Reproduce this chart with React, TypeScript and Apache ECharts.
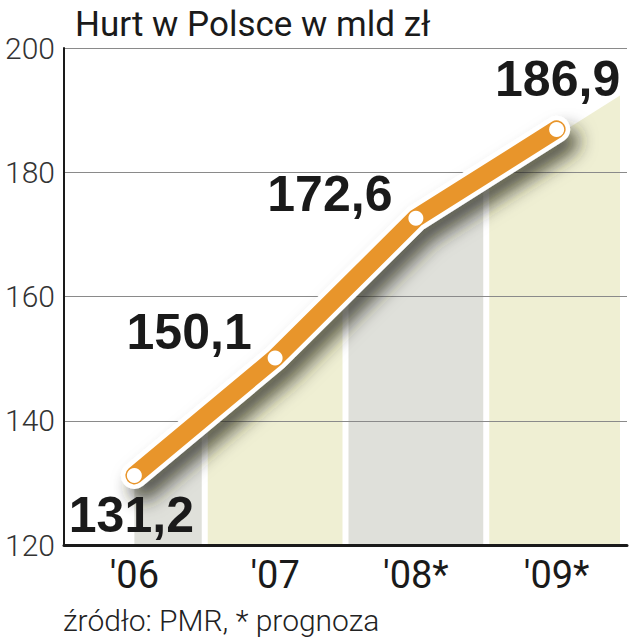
import React, { useEffect, useRef } from "react";
import * as echarts from "echarts";

// Wholesale trade in Poland, bn PLN (2008 and 2009 are forecasts)
const CATEGORIES = ["'06", "'07", "'08*", "'09*"];
const VALUES = [131.2, 150.1, 172.6, 186.9];
const Y_MIN = 120;
const Y_MAX = 200;
const Y_STEP = 20;

const TITLE = "Hurt w Polsce w mld zł";
const SOURCE = "źródło: PMR, * prognoza";

const BAND_COLORS = ["#dfe0da", "#efefd3"];
const LINE_COLOR = "#e8952b";
const INK = "#1a1a1a";
// where each value label sits relative to its point
const LABEL_OFFSETS: [number, number][] = [
  [-3, 40],
  [-86, -26],
  [-86, -24],
  [1, -50],
];

const formatValue = (v: number) => v.toFixed(1).replace(".", ",");

export default function App() {
  const ref = useRef<HTMLDivElement>(null);

  useEffect(() => {
    if (!ref.current) return;
    const chart = echarts.init(ref.current, null, { renderer: "svg" });

    const bandRenderer = (params: any, api: any) => {
      const i = api.value(0);
      const cs = params.coordSys;
      const pts = VALUES.map((v, j) => api.coord([j, v]));
      const w = api.size([1, 0])[0];
      const gap = 3;
      const xc = pts[i][0];
      const left = i === 0 ? xc : xc - w / 2 + gap;
      const right = i === VALUES.length - 1 ? cs.x + cs.width - 7 : xc + w / 2 - gap;
      const yAt = (x: number) => {
        let k = 0;
        while (k < pts.length - 2 && x > pts[k + 1][0]) k++;
        const [x0, y0] = pts[k];
        const [x1, y1] = pts[k + 1];
        return y0 + ((y1 - y0) * (x - x0)) / (x1 - x0);
      };
      const bottom = api.coord([i, Y_MIN])[1] - 1;
      const poly: number[][] = [[left, yAt(left) + 6]];
      if (xc > left && xc < right) poly.push([xc, pts[i][1] + 6]);
      poly.push([right, yAt(right) + 6], [right, bottom], [left, bottom]);
      return {
        type: "polygon",
        shape: { points: poly },
        style: { fill: BAND_COLORS[i % 2] },
      };
    };

    chart.setOption({
      animation: false,
      backgroundColor: "#ffffff",
      title: {
        text: TITLE,
        left: 70,
        top: 2,
        textStyle: {
          fontFamily: "Roboto",
          fontSize: 35,
          fontWeight: 400,
          color: INK,
        },
      },
      grid: { left: 64, right: 2, top: 48, bottom: 95, containLabel: false },
      xAxis: {
        type: "category",
        data: CATEGORIES,
        z: 3,
        axisTick: { show: false },
        axisLine: { lineStyle: { color: INK, width: 3 } },
        axisLabel: {
          fontFamily: "Roboto",
          fontSize: 38,
          color: INK,
          margin: 11,
        },
      },
      yAxis: {
        type: "value",
        min: Y_MIN,
        max: Y_MAX,
        interval: Y_STEP,
        z: 3,
        axisLine: { show: true, lineStyle: { color: INK, width: 2 } },
        axisTick: { show: false },
        splitLine: { lineStyle: { color: "#8a8a8a", width: 1.2 } },
        axisLabel: {
          fontFamily: "Roboto",
          fontWeight: 300,
          fontSize: 30,
          color: "#333333",
          margin: 9,
          verticalAlign: "middle",
          padding: [18, 0, 0, 0],
        },
      },
      series: [
        {
          type: "custom",
          z: 2,
          silent: true,
          renderItem: bandRenderer,
          encode: { x: 0, y: 1 },
          data: VALUES.map((v, i) => [i, v]),
        },
        {
          type: "line",
          z: 4,
          silent: true,
          symbol: "none",
          data: VALUES,
          lineStyle: {
            color: "#ffffff",
            width: 27,
            cap: "round",
            join: "round",
            shadowColor: "rgba(40,40,30,0.75)",
            shadowBlur: 18,
            shadowOffsetX: 9,
            shadowOffsetY: 12,
          },
        },
        {
          type: "line",
          z: 5,
          silent: true,
          symbol: "circle",
          symbolSize: 15,
          itemStyle: { color: "#ffffff", borderWidth: 0 },
          lineStyle: { color: LINE_COLOR, width: 18, cap: "round", join: "round" },
          data: VALUES.map((v, i) => ({
            value: v,
            label: { offset: LABEL_OFFSETS[i] },
          })),
          label: {
            show: true,
            position: "inside",
            formatter: (p: any) => formatValue(p.value),
            fontFamily: "Liberation Sans",
            fontWeight: "bold",
            fontSize: 50,
            color: INK,
            align: "center",
            verticalAlign: "middle",
          },
        },
      ],
      graphic: [
        {
          type: "text",
          x: 63,
          y: 620,
          style: {
            text: SOURCE,
            fontFamily: "Roboto",
            fontWeight: 300,
            fontSize: 30,
            fill: "#222222",
            align: "left",
            verticalAlign: "middle",
          },
        },
      ],
    });

    return () => chart.dispose();
  }, []);

  return (
    <div
      ref={ref}
      style={{ position: "absolute", left: 0, top: 0, width: 629, height: 640 }}
    />
  );
}
